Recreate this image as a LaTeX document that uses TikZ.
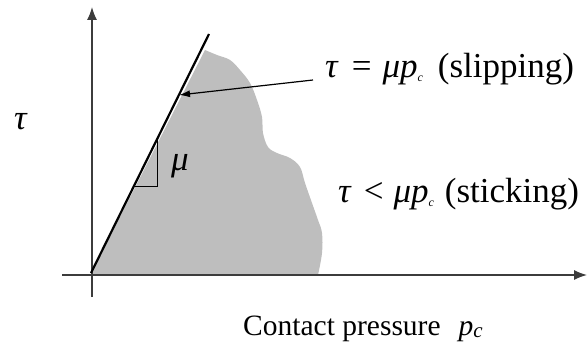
\documentclass[tikz,border=0pt]{standalone}
\usepackage{fontspec}
\setmainfont{Liberation Serif}
\usetikzlibrary{arrows.meta}
\definecolor{regiongray}{RGB}{190,190,190}
\definecolor{axisgray}{RGB}{60,60,60}
\tikzset{
  axisline/.style={draw=axisgray, line width=1.4pt, -{Latex[length=13pt,width=10pt]}},
  frictionline/.style={draw=black, line width=2.2pt},
  label/.style={inner sep=0pt, font=\fontsize{35}{40}\selectfont},
  axlabel/.style={inner sep=0pt, font=\fontsize{29.5}{34}\selectfont},
}
\newcommand{\subc}{\raisebox{-4pt}{\fontsize{12}{12}\selectfont\textit{c}}}
\begin{document}
\begin{tikzpicture}[x=1pt,y=-1pt]
\useasboundingbox (0,0) rectangle (588,345);
% shaded region
\fill[regiongray] (91,274) -- (205,50)
  -- plot[smooth, tension=0.6] coordinates {(205,50) (217,55) (230,60) (240,70) (250,83) (257,100) (262,117) (263,133) (268,147) (277,153) (290,158) (300,167) (305,183) (312,203) (318,220) (322,233) (322,253) (318,275)}
  -- cycle;
% axes
\coordinate (ybot) at (92,297);
\coordinate (ytop) at (92,7);
\coordinate (xleft) at (62,275);
\coordinate (xright) at (587,275);
\draw[axisline] (ybot) -- (ytop);
\draw[axisline] (xleft) -- (xright);
% friction line
\coordinate (lo) at (91,273);
\coordinate (hi) at (209,34);
\draw[frictionline] (lo) -- (hi);
% slope triangle
\coordinate (t1) at (157,140);
\coordinate (t2) at (157,186);
\coordinate (t3) at (134,186);
\draw[black, line width=1pt] (t1) -- (t2) -- (t3);
\node[label] (mu) at (180,166) {\textit{μ}};
% labels
\node[label] (tau) at (21,122) {\textit{τ}};
\node[label, anchor=base west] (slip) at (325,77) {\textit{τ}\hspace{13pt}=\hspace{11pt}\textit{μp}\subc\hspace{15pt}(slipping)};
\node[label, anchor=base west] (stick) at (338,202) {\textit{τ}\hspace{12pt}<\hspace{10pt}\textit{μp}\subc\hspace{11pt}(sticking)};
\node[axlabel, anchor=base west] (xlab) at (243,335) {Contact pressure\hspace{18pt}\textit{p}\raisebox{-2pt}{\fontsize{21}{21}\selectfont\textit{c}}};
% arrow
\coordinate (astart) at (313,80);
\coordinate (hit) at (179,95);
\draw[black, line width=1.2pt, -{Latex[length=11pt,width=7pt]}] (astart) -- (hit);
\end{tikzpicture}
\end{document}
